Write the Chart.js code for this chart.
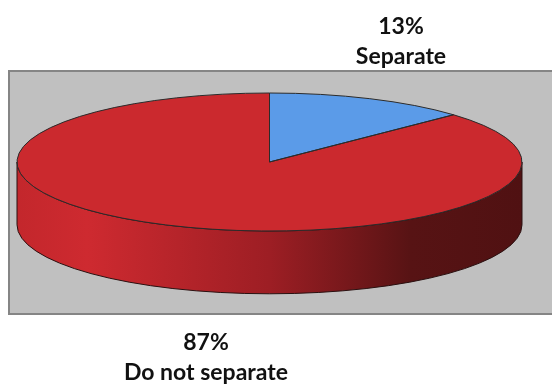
<!DOCTYPE html>
<html>
<head>
<meta charset="utf-8">
<script src="https://cdn.jsdelivr.net/npm/chart.js@4/dist/chart.umd.min.js"></script>
<style>
  html, body { margin: 0; padding: 0; background: #fff; }
  #wrap { width: 552px; height: 385px; }
</style>
</head>
<body>
<div id="wrap"><canvas id="pie"></canvas></div>
<script>
  "use strict";

  // data
  var labels = ["Separate", "Do not separate"];
  var values = [13, 87];
  var colors = ["#5b9be8", "#cb292e"];
  // side wall gradients (front of the 3D disc)
  var sideStops = [
    [[0, "#3e6ea8"], [1, "#22406a"]],
    [[0, "#c3272c"], [0.14, "#ce2a30"], [0.5, "#9d1e24"], [0.78, "#571314"], [1, "#501112"]]
  ];

  var DEPTH = 0.91; // wall height relative to vertical radius

  function ellipseInfo(chart) {
    var a = chart.chartArea;
    return {
      cx: (a.left + a.right) / 2,
      cy: (a.top + a.bottom) / 2,
      sx: a.width / a.height
    };
  }

  // 3D pie: squash the pie, draw a side wall under it and the outlines
  var pie3d = {
    id: "pie3d",
    beforeDraw: function (chart) {
      var ctx = chart.ctx;
      ctx.save();
      ctx.fillStyle = "#c0c0c0";
      ctx.fillRect(9, 71, 560, 243);
      ctx.strokeStyle = "#858585";
      ctx.lineWidth = 2;
      ctx.strokeRect(9, 71, 560, 243);
      ctx.restore();
    },
    beforeDatasetsDraw: function (chart) {
      var ctx = chart.ctx;
      var e = ellipseInfo(chart);
      var meta = chart.getDatasetMeta(0);
      ctx.save();
      meta.data.forEach(function (arc, i) {
        var p = arc.getProps(["x", "y", "startAngle", "endAngle", "outerRadius"], true);
        var ry = p.outerRadius, rx = ry * e.sx, d = ry * DEPTH;
        [0, 2 * Math.PI, -2 * Math.PI].forEach(function (off) {
          var a0 = Math.max(p.startAngle + off, 0);
          var a1 = Math.min(p.endAngle + off, Math.PI);
          if (a1 <= a0) return;
          var g = ctx.createLinearGradient(e.cx - rx, 0, e.cx + rx, 0);
          sideStops[i].forEach(function (s) { g.addColorStop(s[0], s[1]); });
          ctx.beginPath();
          ctx.ellipse(e.cx, e.cy, rx, ry, 0, a0, a1);
          ctx.ellipse(e.cx, e.cy + d, rx, ry, 0, a1, a0, true);
          ctx.closePath();
          ctx.fillStyle = g;
          ctx.fill();
          ctx.strokeStyle = "#2a1010";
          ctx.lineWidth = 1;
          ctx.stroke();
        });
      });
      ctx.restore();
      // squash the circular pie into an ellipse
      ctx.save();
      ctx.translate(e.cx, e.cy);
      ctx.scale(e.sx, 1);
      ctx.translate(-e.cx, -e.cy);
    },
    afterDatasetsDraw: function (chart) {
      var ctx = chart.ctx;
      ctx.restore();
      var e = ellipseInfo(chart);
      var meta = chart.getDatasetMeta(0);
      ctx.save();
      ctx.strokeStyle = "#2b2b2b";
      ctx.lineWidth = 1;
      meta.data.forEach(function (arc) {
        var p = arc.getProps(["x", "y", "startAngle", "endAngle", "outerRadius"], true);
        var ry = p.outerRadius, rx = ry * e.sx;
        ctx.beginPath();
        ctx.moveTo(e.cx, e.cy);
        ctx.lineTo(e.cx + rx * Math.cos(p.startAngle), e.cy + ry * Math.sin(p.startAngle));
        ctx.ellipse(e.cx, e.cy, rx, ry, 0, p.startAngle, p.endAngle);
        ctx.closePath();
        ctx.stroke();
      });
      ctx.restore();
    },
    afterDraw: function (chart) {
      var ctx = chart.ctx;
      var total = values.reduce(function (a, b) { return a + b; }, 0);
      var pos = [[401, 34], [206, 350]];
      ctx.save();
      ctx.fillStyle = "#111";
      ctx.font = "bold 23px Lato, 'Open Sans', sans-serif";
      ctx.textAlign = "center";
      ctx.textBaseline = "alphabetic";
      labels.forEach(function (lab, i) {
        var pct = Math.round(values[i] / total * 100) + "%";
        ctx.fillText(pct, pos[i][0], pos[i][1]);
        ctx.fillText(lab, pos[i][0], pos[i][1] + 30);
      });
      ctx.restore();
    }
  };

  new Chart(document.getElementById("pie"), {
    type: "pie",
    data: {
      labels: labels,
      datasets: [{
        data: values,
        backgroundColor: colors,
        borderWidth: 0
      }]
    },
    options: {
      responsive: true,
      maintainAspectRatio: false,
      animation: false,
      layout: { padding: { left: 17, right: 30, top: 93, bottom: 154 } },
      plugins: {
        legend: { display: false },
        tooltip: { enabled: false }
      }
    },
    plugins: [pie3d]
  });
</script>
</body>
</html>
